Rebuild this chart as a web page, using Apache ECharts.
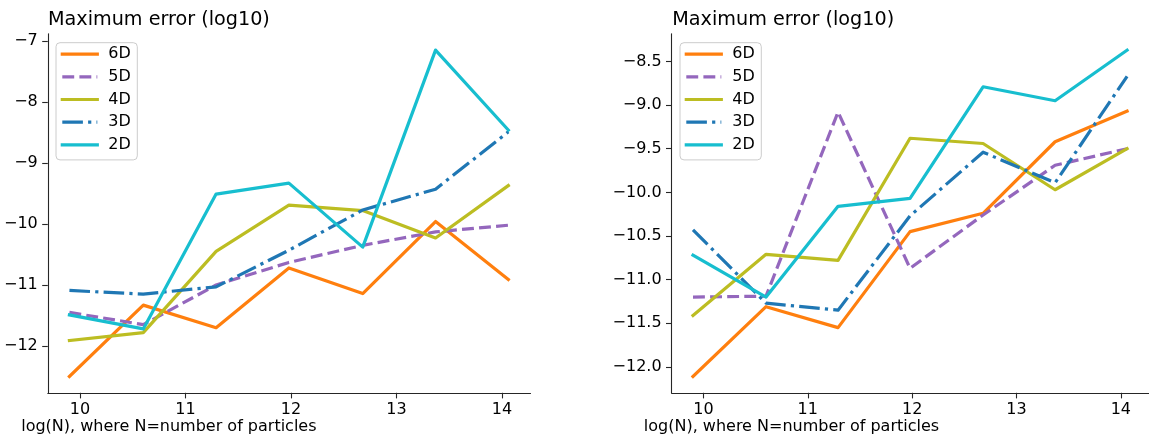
<!DOCTYPE html>
<html>
<head>
<meta charset="utf-8">
<script src="https://cdn.jsdelivr.net/npm/echarts@6/dist/echarts.min.js"></script>
<style>
html,body{margin:0;padding:0;background:#fff;}
#c{width:1149px;height:439px;}
</style>
</head>
<body>
<div id="c"></div>
<script>
// ---- data ----
const logN = [9.90, 10.60, 11.29, 11.98, 12.68, 13.37, 14.06];
const dims = ['6D', '5D', '4D', '3D', '2D'];
const xTicks = [10, 11, 12, 13, 14];
const yTicksLeft = [-12, -11, -10, -9, -8, -7];
const yTicksRight = [-12, -11.5, -11, -10.5, -10, -9.5, -9, -8.5];
const titleText = 'Maximum error (log10)';
const xLabelText = 'log(N), where N=number of particles';

const left6D = [-12.50, -11.33, -11.70, -10.72, -11.14, -9.96, -10.91];
const left5D = [-11.45, -11.65, -11.00, -10.63, -10.35, -10.13, -10.02];
const left4D = [-11.91, -11.78, -10.45, -9.69, -9.78, -10.23, -9.37];
const left3D = [-11.09, -11.15, -11.03, -10.43, -9.77, -9.43, -8.49];
const left2D = [-11.49, -11.72, -9.51, -9.33, -10.38, -7.15, -8.46];

const right6D = [-12.11, -11.31, -11.55, -10.45, -10.24, -9.42, -9.07];
const right5D = [-11.20, -11.19, -9.08, -10.87, -10.26, -9.69, -9.50];
const right4D = [-11.41, -10.71, -10.78, -9.38, -9.44, -9.97, -9.50];
const right3D = [-10.43, -11.27, -11.35, -10.27, -9.54, -9.89, -8.67];
const right2D = [-10.72, -11.20, -10.16, -10.07, -8.79, -8.95, -8.37];

// ---- styling ----
const FONT = 'DejaVu Sans';
const AXIS_COLOR = '#262626';
const LW = 3.2;
const styleOf = {
  '6D': {color: '#ff7f0e', type: 'solid', cap: 'square'},
  '5D': {color: '#9467bd', type: [11.9, 5.2], cap: 'butt'},
  '4D': {color: '#bcbd22', type: 'solid', cap: 'square'},
  '3D': {color: '#1f77b4', type: [20.6, 5.2, 3.2, 5.2], cap: 'butt'},
  '2D': {color: '#17becf', type: 'solid', cap: 'square'}
};
const leftSets = {'6D': left6D, '5D': left5D, '4D': left4D, '3D': left3D, '2D': left2D};
const rightSets = {'6D': right6D, '5D': right5D, '4D': right4D, '3D': right3D, '2D': right2D};

function minus(s) { return s.replace('-', '\u2212'); }
function fmtInt(v) { return minus(String(Math.round(v))); }
function fmtOne(v) { return minus(v.toFixed(1)); }

function xAxisCfg(gi) {
  return {
    type: 'value', gridIndex: gi, min: 9.695, max: 14.270,
    axisLine: {show: true, onZero: false, lineStyle: {color: AXIS_COLOR, width: 1.1}},
    axisTick: {show: true, inside: false, length: 5.6, customValues: xTicks,
      lineStyle: {color: AXIS_COLOR, width: 1.1}},
    axisLabel: {show: true, customValues: xTicks, margin: 8.6, fontSize: 16, lineHeight: 16,
      fontFamily: FONT, color: '#000', formatter: v => fmtInt(v)},
    splitLine: {show: false}
  };
}
function yAxisCfg(gi, mn, mx, ticks, fmt) {
  return {
    type: 'value', gridIndex: gi, min: mn, max: mx,
    axisLine: {show: true, onZero: false, lineStyle: {color: AXIS_COLOR, width: 1.1}},
    axisTick: {show: true, inside: false, length: 5.6, customValues: ticks,
      lineStyle: {color: AXIS_COLOR, width: 1.1}},
    axisLabel: {show: true, customValues: ticks, margin: 10, fontSize: 16, lineHeight: 16,
      fontFamily: FONT, color: '#000', formatter: fmt},
    splitLine: {show: false}
  };
}
function seriesFor(sets, gi) {
  return dims.map(d => ({
    type: 'line', name: d, xAxisIndex: gi, yAxisIndex: gi,
    data: logN.map((x, i) => [x, sets[d][i]]),
    symbol: 'none', showSymbol: false, silent: true, clip: false,
    lineStyle: {color: styleOf[d].color, width: LW, type: styleOf[d].type,
      cap: styleOf[d].cap, join: 'round'},
    itemStyle: {color: styleOf[d].color},
    emphasis: {disabled: true}
  }));
}
function legendCfg(left) {
  return {
    orient: 'vertical', left: left, top: 42.7, data: dims, selectedMode: false,
    itemWidth: 35, itemHeight: 16, itemGap: 6.7,
    padding: [3.4, 6.5, 7, 4.7],
    backgroundColor: 'rgba(255,255,255,0.8)', borderColor: '#cccccc', borderWidth: 1,
    borderRadius: 4,
    itemStyle: {opacity: 0},
    lineStyle: {width: LW, opacity: 1},
    textStyle: {fontSize: 16, lineHeight: 16, fontFamily: FONT, color: '#000',
      padding: [0, 0, 0, 6]}
  };
}
function textEl(x, y, txt, size) {
  return {type: 'text', silent: true,
    style: {x: x, y: y, text: txt, font: size + 'px "' + FONT + '"', fill: '#000',
      align: 'left', verticalAlign: 'middle'}};
}

const chart = echarts.init(document.getElementById('c'), null, {renderer: 'canvas'});
chart.setOption({
  animation: false,
  backgroundColor: '#fff',
  grid: [
    {left: 47.8, top: 33.8, width: 482.7, height: 359},
    {left: 671.6, top: 33.8, width: 482.7, height: 359}
  ],
  xAxis: [xAxisCfg(0), xAxisCfg(1)],
  yAxis: [
    yAxisCfg(0, -12.7675, -6.8825, yTicksLeft, fmtInt),
    yAxisCfg(1, -12.297, -8.183, yTicksRight, fmtOne)
  ],
  legend: [legendCfg(56), legendCfg(680)],
  series: seriesFor(leftSets, 0).concat(seriesFor(rightSets, 1)),
  graphic: [
    textEl(48, 20.3, titleText, 19.2),
    textEl(672.3, 20.3, titleText, 19.2),
    textEl(21.2, 427, xLabelText, 16),
    textEl(643.8, 427, xLabelText, 16)
  ]
});
</script>
</body>
</html>
